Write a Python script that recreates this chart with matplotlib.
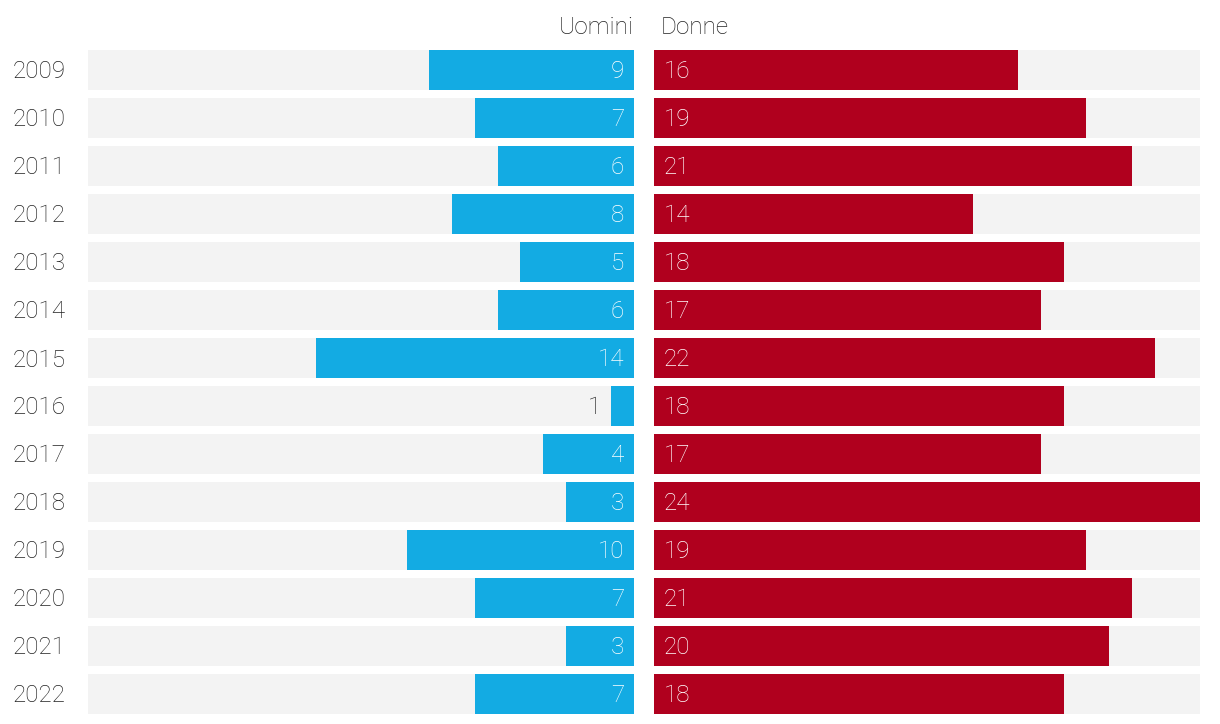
import matplotlib
matplotlib.use("Agg")
import matplotlib.pyplot as plt
import numpy as np

plt.rcParams['font.family'] = ['Roboto', 'DejaVu Sans']

years = ['2009', '2010', '2011', '2012', '2013', '2014', '2015',
         '2016', '2017', '2018', '2019', '2020', '2021', '2022']
uomini = [9, 7, 6, 8, 5, 6, 14, 1, 4, 3, 10, 7, 3, 7]
donne = [16, 19, 21, 14, 18, 17, 22, 18, 17, 24, 19, 21, 20, 18]

blue = '#13abe3'
red = '#b0001e'
bg = '#f3f3f3'
txt = '#222222'
vmax = 24
h = 40 / 48
fw = 'light'

W, H = 1220, 724
fig = plt.figure(figsize=(W / 100, H / 100), dpi=100)
bottom = 1 - 714 / H
height = 664 / H
axl = fig.add_axes([88 / W, bottom, 546 / W, height])
axr = fig.add_axes([654 / W, bottom, 546 / W, height])

y = np.arange(len(years))
fs = 17.5
dy = 0.04  # nudge text slightly down

for ax in (axl, axr):
    ax.barh(y, [vmax] * len(y), height=h, color=bg, zorder=1)
    ax.set_xlim(0, vmax)
    ax.set_ylim(len(y) - 1 + h / 2, -h / 2)
    ax.axis('off')

axl.barh(y, uomini, height=h, color=blue, zorder=2)
axl.invert_xaxis()
axr.barh(y, donne, height=h, color=red, zorder=2)

pad = 10 / 546 * vmax
for i, v in enumerate(uomini):
    if v >= 2:
        axl.text(pad, i + dy, str(v), ha='right', va='center', color='white',
                 fontsize=fs, fontweight=fw, zorder=3)
    else:
        axl.text(v + pad, i + dy, str(v), ha='right', va='center', color=txt,
                 fontsize=fs, fontweight=fw, zorder=3)
for i, v in enumerate(donne):
    axr.text(pad, i + dy, str(v), ha='left', va='center', color='white',
             fontsize=fs, fontweight=fw, zorder=3)

for i, yr in enumerate(years):
    fig.text(13 / W, 1 - (72 + 48 * i) / H, yr, ha='left', va='center',
             color=txt, fontsize=fs, fontweight=fw)

fig.text(634 / W, 1 - 28 / H, 'Uomini', ha='right', va='center',
         color=txt, fontsize=fs, fontweight=fw)
fig.text(661 / W, 1 - 28 / H, 'Donne', ha='left', va='center',
         color=txt, fontsize=fs, fontweight=fw)

fig.savefig('out.png', dpi=100, facecolor='white')
